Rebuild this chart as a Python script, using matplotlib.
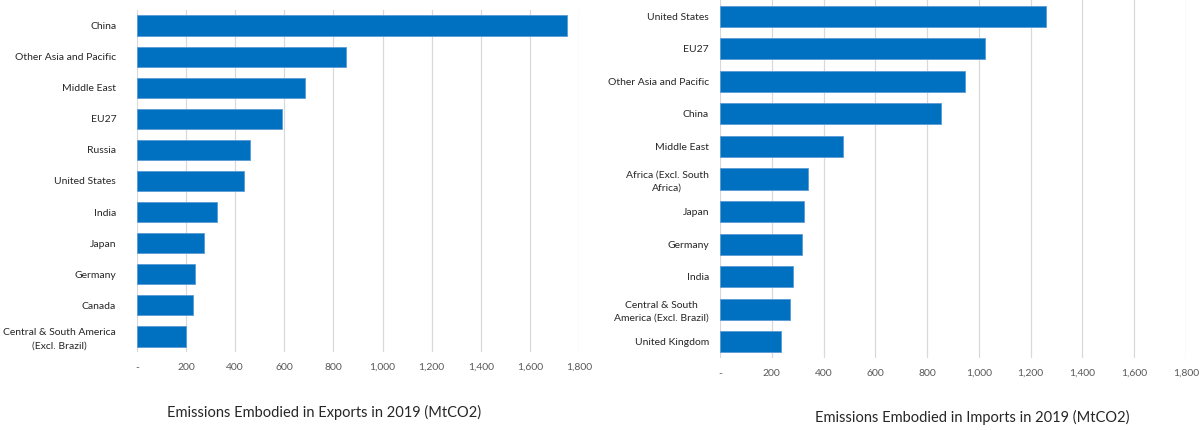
"""Embodied emissions in trade, 2019: exporters vs importers, side by side."""

import matplotlib

matplotlib.use("Agg")
import matplotlib.pyplot as plt
from matplotlib.ticker import FuncFormatter

plt.rcParams["font.family"] = ["Lato", "DejaVu Sans"]

BAR = "#0070c0"
GRID = "#d9d9d9"
TICK_TEXT = "#595959"
LABEL_TEXT = "#262626"

# exports, largest first
export_regions = [
    "China", "Other Asia and Pacific", "Middle East", "EU27", "Russia",
    "United States", "India", "Japan", "Germany", "Canada",
    "Central & South America\n(Excl. Brazil)",
]
export_mt = [1751, 851, 685, 591, 461, 437, 324, 274, 235, 230, 201]

# imports, largest first
import_regions = [
    "United States", "EU27", "Other Asia and Pacific", "China", "Middle East",
    "Africa (Excl. South\nAfrica)", "Japan", "Germany", "India",
    "Central & South\nAmerica (Excl. Brazil)", "United Kingdom",
]
import_mt = [1259, 1023, 947, 853, 477, 339, 324, 318, 282, 270, 234]

x_ticks = [0, 200, 400, 600, 800, 1000, 1200, 1400, 1600, 1800]


def fmt(v, _pos):
    return "-" if v == 0 else f"{v:,.0f}"


def draw(ax, regions, values, title, label_pad, title_xy):
    y = range(len(regions))
    ax.barh(y, values, height=0.65, color=BAR, edgecolor="#5b9bd5",
            linewidth=0.6, zorder=3)
    ax.set_yticks(list(y), regions, fontsize=7.5, color=LABEL_TEXT)
    for t in ax.get_yticklabels():
        t.set_multialignment("center")  # wrapped names are centred line by line
        t.set_linespacing(1.55)
    ax.set_ylim(len(regions) - 0.5, -0.5)
    ax.set_xlim(0, 1800)
    ax.set_xticks(x_ticks)
    ax.xaxis.set_major_formatter(FuncFormatter(fmt))
    ax.tick_params(axis="x", labelsize=7.5, labelcolor=TICK_TEXT, length=0, pad=8)
    ax.tick_params(axis="y", length=0, pad=label_pad)
    ax.grid(axis="x", color=GRID, linewidth=0.9, zorder=0)
    for s in ax.spines.values():
        s.set_visible(False)
    ax.set_xlabel(title, fontsize=10.5, color=LABEL_TEXT)
    ax.xaxis.set_label_coords(*title_xy)


fig = plt.figure(figsize=(12.01, 4.30), dpi=100)
W, H = 1201, 430
ax_l = fig.add_axes([137 / W, 1 - 352 / H, (579 - 137) / W, (352 - 10) / H])
ax_r = fig.add_axes([720 / W, 1 - 358 / H, (1186 - 720) / W, 358 / H])

draw(ax_l, export_regions, export_mt,
     "Emissions Embodied in Exports in 2019 (MtCO2)",
     label_pad=15, title_xy=(0.423, -0.155))
draw(ax_r, import_regions, import_mt,
     "Emissions Embodied in Imports in 2019 (MtCO2)",
     label_pad=8, title_xy=(0.541, -0.145))

fig.savefig("out.png", dpi=100)
